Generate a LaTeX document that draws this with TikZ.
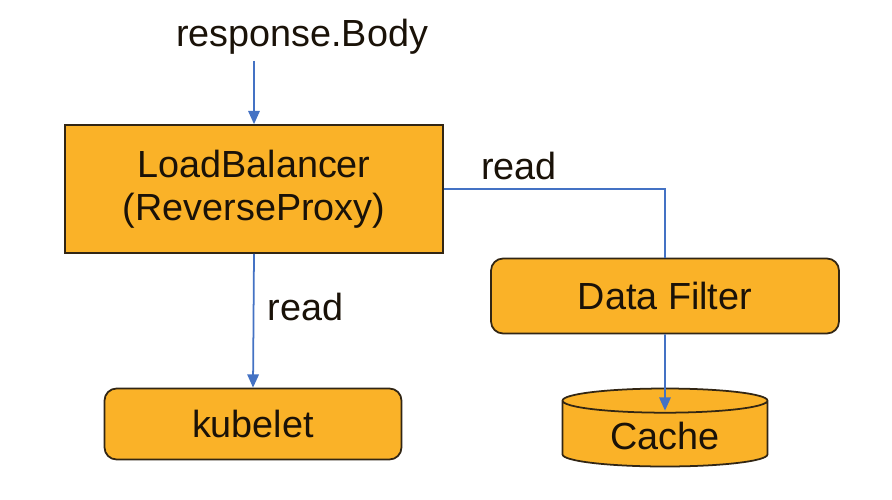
\documentclass[tikz,border=0pt]{standalone}
\usepackage{fontspec}
\setmainfont{Liberation Sans}
\usetikzlibrary{positioning,arrows.meta,shapes.geometric}
\definecolor{boxorange}{RGB}{250,178,40}
\definecolor{capfill}{RGB}{252,212,122}
\definecolor{linkblue}{RGB}{68,114,196}
\definecolor{edgedark}{RGB}{50,38,20}
\definecolor{textdark}{RGB}{26,18,8}

\begin{document}
\begin{tikzpicture}[x=0.02cm, y=-0.02cm,
        box/.style={draw=edgedark, line width=1pt, fill=boxorange, text=textdark,
            font=\fontsize{21.5}{24.5}\selectfont, align=center},
        flow/.style={draw=linkblue, line width=1pt, -{Triangle[length=7.5pt,width=6.5pt]}},
        lbl/.style={text=textdark, font=\fontsize{21.5}{24.5}\selectfont}]
        % page size
        \fill[white] (0,0) rectangle (892,500);

        % Load balancer box
        \node[box, minimum width=7.56cm, minimum height=2.56cm] (lb) at (254,189) {LoadBalancer\\(ReverseProxy)};

        % Input
        \node[lbl] (resp) at (302,37) {response.Body};
        \draw[flow] (lb.north |- resp.south) -- (lb.north);

        % kubelet
        \node[box, rounded corners=0.24cm, minimum width=5.94cm, minimum height=1.42cm] (kube) at (253,424) {kubelet};
        \draw[flow] (lb.south) -- node[lbl, pos=0.4, right=0.15cm] (readk) {read} (kube.north);

        % Data filter
        \node[box, rounded corners=0.24cm, minimum width=6.96cm, minimum height=1.5cm] (filter) at (665,296) {Data Filter};
        \draw[linkblue, line width=1pt] (lb.east) -| (filter.north);
        \node[lbl, above right=0.05cm and 0.62cm of lb.east] (readf) {read};

        % Cache
        \node[box, cylinder, shape border rotate=90, aspect=0.2, cylinder uses custom fill,
            cylinder body fill=boxorange, cylinder end fill=capfill,
            minimum width=4.1cm, minimum height=1.56cm] (cache) at (665,436) {Cache};
        \draw[flow] (filter.south) -- ([yshift=-0.46cm]cache.north);
    \end{tikzpicture}
\end{document}
